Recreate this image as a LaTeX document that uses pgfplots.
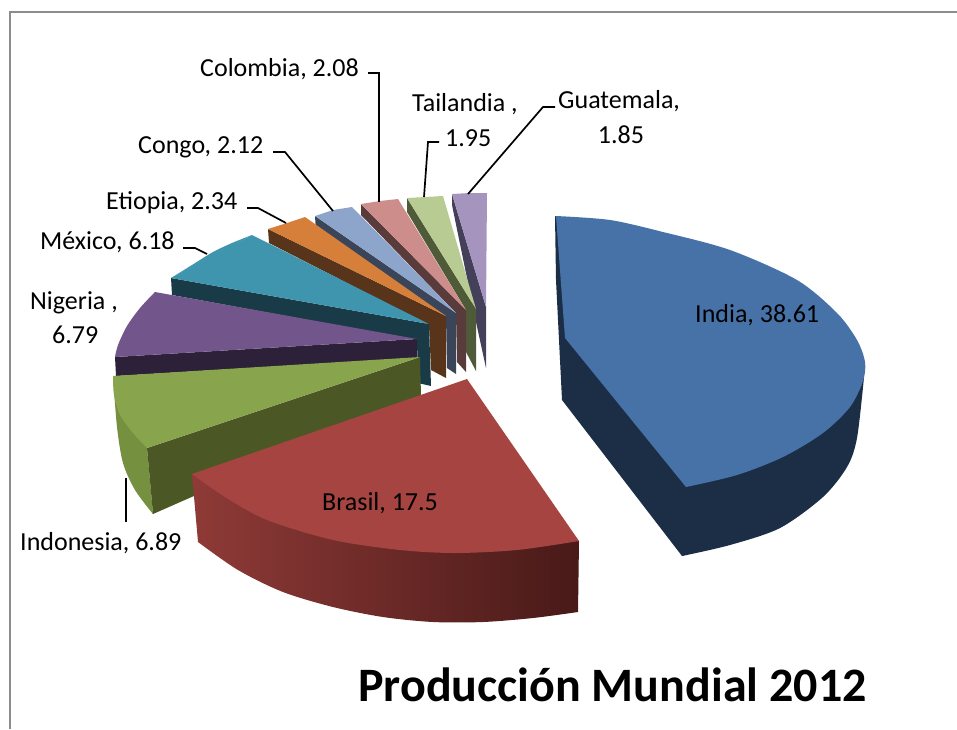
\documentclass[border=0pt]{standalone}
\usepackage{fontspec}
\setmainfont{Carlito}
\usepackage{pgfplots}
\pgfplotsset{compat=1.18}
\definecolor{indTop}{HTML}{4672A8}\definecolor{indSide}{HTML}{1B2E46}
\definecolor{braTop}{HTML}{A64441}\definecolor{braL}{HTML}{8F3A37}\definecolor{braR}{HTML}{481A18}
\definecolor{idnTop}{HTML}{88A44C}\definecolor{idnSide}{HTML}{4B5826}\definecolor{idnOut}{HTML}{759140}
\definecolor{ngaTop}{HTML}{71558B}\definecolor{ngaSide}{HTML}{2C2139}
\definecolor{mexTop}{HTML}{4095AE}\definecolor{mexSide}{HTML}{193A47}
\definecolor{ethTop}{HTML}{D57F3B}\definecolor{ethSide}{HTML}{57341A}
\definecolor{conTop}{HTML}{8EA5CB}\definecolor{conSide}{HTML}{3A4559}
\definecolor{colTop}{HTML}{CD8D8B}\definecolor{colSide}{HTML}{5A3B3B}
\definecolor{thaTop}{HTML}{B8CB92}\definecolor{thaSide}{HTML}{4F5A38}
\definecolor{gtmTop}{HTML}{A595BE}\definecolor{gtmSide}{HTML}{45405A}
\definecolor{frameGray}{HTML}{8C8C8C}
\tikzset{lbl/.style={font=\fontsize{26}{30}\selectfont,text=black,inner sep=0pt},
  lead/.style={black,line width=1.7pt}}
\begin{document}
\begin{tikzpicture}
\useasboundingbox (0,0) rectangle (957pt,729pt);
\begin{axis}[at={(0,0)},anchor=south west,scale only axis,width=957pt,height=729pt,
  xmin=0,xmax=957,ymin=0,ymax=729,y dir=reverse,hide axis,clip=true]
% chart frame
\addplot[frameGray,line width=1.6pt] coordinates {(10,729)(10,12)(957,12)};
% small slices, back to front
\addplot[fill=gtmSide,draw=none] coordinates {(452,194)(486,307)(486,368)(476,322)(452,205)} --cycle;
\addplot[fill=gtmTop,draw=none] coordinates {(452,194)(470,193)(487,193)(486,307)} --cycle;
\addplot[fill=thaSide,draw=none] coordinates {(407,198)(476,309)(476,371)(466,352)(466,310)(407,212)} --cycle;
\addplot[fill=thaTop,draw=none] coordinates {(407,198)(425,197)(443,196)(476,309)} --cycle;
\addplot[fill=colSide,draw=none] coordinates {(361,204)(466,310)(466,372)(457,362)(456,313)(361,215)} --cycle;
\addplot[fill=colTop,draw=none] coordinates {(361,204)(380,201)(398,199)(466,310)} --cycle;
\addplot[fill=conSide,draw=none] coordinates {(315,216)(456,313)(456,374)(447,368)(446,316)(316,231)} --cycle;
\addplot[fill=conTop,draw=none] coordinates {(315,216)(333,210)(352,207)(456,313)} --cycle;
\addplot[fill=ethSide,draw=none] coordinates {(268,229)(446,316)(446,378)(431,370)(429,325)(269,243)} --cycle;
\addplot[fill=ethTop,draw=none] coordinates {(268,229)(287,223)(305,217)(446,316)} --cycle;
% Mexico
\addplot[fill=mexSide,draw=none] coordinates {(171,278)(429,324)(431,386)(418,383)(417,340)(172,295)} --cycle;
\addplot[fill=mexTop,draw=none,smooth] coordinates {(252,235)(232,243)(213,252)(192,265)(171,278)} --cycle;
\addplot[fill=mexTop,draw=none] coordinates {(252,235)(213,255)(171,278)(429,324)} --cycle;
% Nigeria
\addplot[fill=ngaSide,draw=none] coordinates {(115,357)(417,339)(417,358)(116,376)} --cycle;
\addplot[fill=ngaTop,draw=none,smooth] coordinates {(155,292)(140,308)(127,326)(118,345)(115,357)} --cycle;
\addplot[fill=ngaTop,draw=none] coordinates {(155,292)(130,328)(115,357)(417,339)} --cycle;
% Indonesia
\addplot[fill=idnOut,draw=none,smooth] coordinates {(153,514)(135,490)(123,463)(117,427)(113,376)} --cycle;
\addplot[fill=idnOut,draw=none] coordinates {(113,376)(147,448)(153,514)(133,480)(121,440)} --cycle;
\addplot[fill=idnSide,draw=none] coordinates {(147,448)(420,357)(421,396)(153,514)} --cycle;
\addplot[fill=idnTop,draw=none,smooth] coordinates {(113,376)(114,395)(120,415)(133,433)(147,448)} --cycle;
\addplot[fill=idnTop,draw=none] coordinates {(113,376)(420,357)(147,448)(124,418)} --cycle;
% Brasil
\addplot[left color=braL,right color=braR,draw=none,smooth] coordinates {(198,542)(238,570)(283,592)(333,607)(383,617)(433,622)(483,622)(533,618)(578,612)} -- (axis cs:579,541) -- (axis cs:192,474) -- cycle;
\addplot[fill=braTop,draw=none,smooth] coordinates {(192,474)(225,497)(267,520)(333,540)(400,550)(455,553)(517,550)(579,541)} --cycle;
\addplot[fill=braTop,draw=none] coordinates {(467,379)(192,474)(400,545)(579,541)} --cycle;
% India
\addplot[fill=indSide,draw=none,smooth] coordinates {(682,556)(730,545)(780,528)(823,497)(847,467)(857,438)(864,377)} --cycle;
\addplot[fill=indSide,draw=none] coordinates {(555,216)(556,280)(562,400)(682,556)(728,540)(778,522)(820,490)(850,440)(864,377)} --cycle;
\addplot[fill=indTop,draw=none,smooth] coordinates {(556,216)(610,220)(663,232)(730,250)(797,280)(837,313)(857,340)(865,362)(863,381)(850,407)(823,433)(783,457)(737,475)(686,487)} --cycle;
\addplot[fill=indTop,draw=none] coordinates {(565,338)(556,216)(700,350)(686,487)} --cycle;
% leader lines
\addplot[lead] coordinates {(368,73)(379,73)(379,202)};
\addplot[lead] coordinates {(439,142)(428,142)(424,197)};
\addplot[lead] coordinates {(555,107)(543,107)(468,194)};
\addplot[lead] coordinates {(273,152)(285,152)(333,211)};
\addplot[lead] coordinates {(247,208)(258,208)(286,223)};
\addplot[lead] coordinates {(183,248)(195,248)(207,254)};
\addplot[lead] coordinates {(126,478)(126,522)};
% data labels
\node[lbl,anchor=base west] at (axis cs:200,76) {Colombia, 2.08};
\node[lbl,anchor=base west] at (axis cs:412,111) {Tailandia ,};
\node[lbl,anchor=base west] at (axis cs:445,146) {1.95};
\node[lbl,anchor=base west] at (axis cs:558,108) {Guatemala,};
\node[lbl,anchor=base] at (axis cs:621,143) {1.85};
\node[lbl,anchor=base west] at (axis cs:138,153) {Congo, 2.12};
\node[lbl,anchor=base west] at (axis cs:106,209) {Etiopia, 2.34};
\node[lbl,anchor=base west] at (axis cs:40,249) {México, 6.18};
\node[lbl,anchor=base west] at (axis cs:30,309) {Nigeria ,};
\node[lbl,anchor=base west] at (axis cs:52,343) {6.79};
\node[lbl,anchor=base west] at (axis cs:20,550) {Indonesia, 6.89};
\node[lbl,anchor=base west] at (axis cs:322,510) {Brasil, 17.5};
\node[lbl,anchor=base west] at (axis cs:695,322) {India, 38.61};
% title
\node[anchor=base west,inner sep=0pt,font=\fontsize{48}{54}\selectfont\bfseries] at (axis cs:358,701) {Producción Mundial 2012};
\end{axis}
\end{tikzpicture}
\end{document}
